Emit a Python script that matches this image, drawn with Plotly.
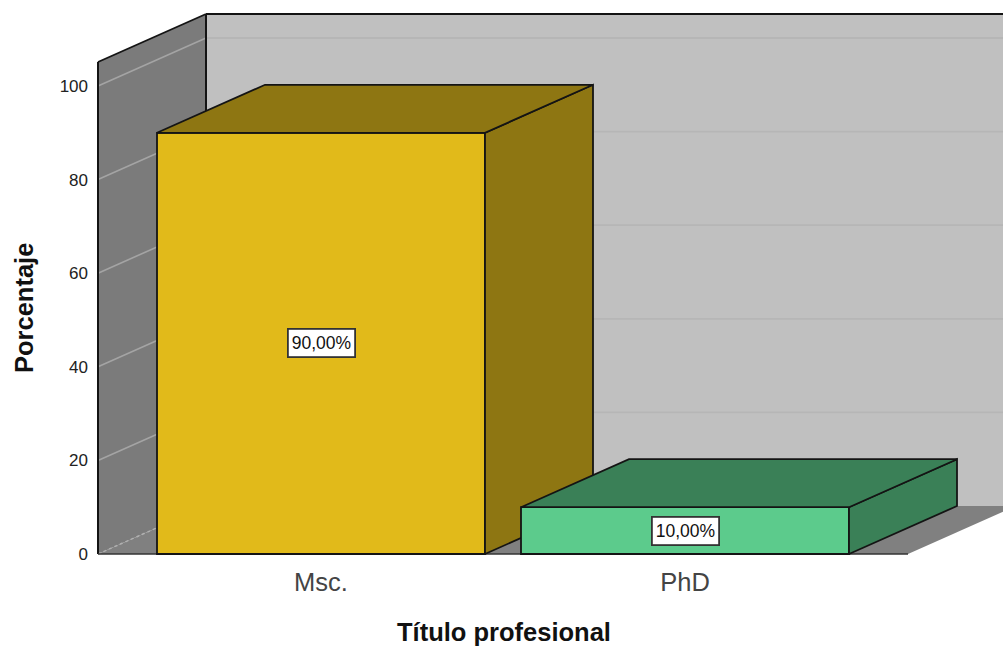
import plotly.graph_objects as go

# Data
categories = ["Msc.", "PhD"]
percentages = [90, 10]
data_labels = ["90,00%", "10,00%"]
y_ticks = [0, 20, 40, 60, 80, 100]
front_colors = ["#e1ba1a", "#5ccb8c"]
shade_colors = ["#8e7612", "#3a8057"]

# Geometry in axis units
PX_X = 364.0   # pixels per category step
PX_Y = 4.68    # pixels per percent
bar_w = 328 / PX_X
dx = 108 / PX_X
dy = 48 / PX_Y
x_left = (98 - 321) / PX_X
x_right = (908 - 321) / PX_X
y_wall = (554 - 62) / PX_Y
positions = list(range(len(categories)))

W, H = 1003, 646
ML, MT, MB = 94, 10, 88
PLOT_W, PLOT_H = W - ML, H - MT - MB
x_range = [(ML - 321) / PX_X, (W - 321) / PX_X]
y_range = [-(H - MB - 554) / PX_Y, (554 - MT) / PX_Y]
EDGE = "#141414"


def poly(xs, ys):
    return "M" + " L".join(f"{a},{b}" for a, b in zip(xs, ys)) + " Z"


shapes = []
def add_path(xs, ys, fill):
    shapes.append(dict(type="path", path=poly(xs, ys), fillcolor=fill, layer="below",
                       line=dict(width=0, color=fill), xref="x", yref="y"))


def add_line(x0, y0, x1, y1, color, width=1.5, dash="solid"):
    shapes.append(dict(type="line", x0=x0, y0=y0, x1=x1, y1=y1, layer="below", xref="x", yref="y",
                       line=dict(color=color, width=width, dash=dash)))


# Walls and floor
add_path([x_left + dx, x_range[1] + 1, x_range[1] + 1, x_left + dx], [dy, dy, y_wall + dy, y_wall + dy], "#c0c0c0")
add_path([x_left, x_left + dx, x_left + dx, x_left], [0, dy, y_wall + dy, y_wall], "#7b7b7b")
add_path([x_left, x_right, x_right + dx, x_left + dx], [0, 0, dy, dy], "#808080")

for t in y_ticks:
    if t == 0:
        add_line(x_left, 0, x_left + dx, dy, "#b0b0b0", 1.5, "dot")
    else:
        add_line(x_left, t, x_left + dx, t + dy, "#a4a4a4", 1.6)
        add_line(x_left + dx, t + dy, x_range[1], t + dy, "#b6b6b6", 1.8)

add_line(x_left, 0, x_left, y_wall, EDGE, 2)
add_line(x_left, y_wall, x_left + dx, y_wall + dy, EDGE, 1.8)
add_line(x_left + dx, dy, x_left + dx, y_wall + dy, EDGE, 2)
add_line(x_left + dx, y_wall + dy, x_range[1], y_wall + dy, EDGE, 1.8)
add_line(x_left, 0, x_right, 0, "#333333", 1.6)

fig = go.Figure()
for i, (pos, val) in enumerate(zip(positions, percentages)):
    xa = "x" if i == 0 else "x2"
    ya = "y" if i == 0 else "y2"
    x0, x1 = pos - bar_w / 2, pos + bar_w / 2
    fig.add_trace(go.Bar(x=[pos], y=[val], width=[bar_w], xaxis=xa, yaxis=ya, name=categories[i],
                         marker=dict(color=front_colors[i], line=dict(color=EDGE, width=1.8))))
    # right side
    fig.add_trace(go.Scatter(x=[x1, x1 + dx, x1 + dx, x1, x1], y=[0, dy, val + dy, val, 0], mode="lines",
                             fill="toself", fillcolor=shade_colors[i], xaxis=xa, yaxis=ya,
                             line=dict(color=EDGE, width=1.8), hoverinfo="skip"))
    # top
    fig.add_trace(go.Scatter(x=[x0, x1, x1 + dx, x0 + dx, x0], y=[val, val, val + dy, val + dy, val], mode="lines",
                             fill="toself", fillcolor=shade_colors[i], xaxis=xa, yaxis=ya,
                             line=dict(color=EDGE, width=1.8), hoverinfo="skip"))

annotations = [dict(x=p, y=v / 2, xref="x2", yref="y2", text=t, showarrow=False, bgcolor="white",
                    bordercolor="#333333", borderwidth=1.8, borderpad=3,
                    font=dict(family="Liberation Sans", size=17.5, color="#111111"))
               for p, v, t in zip(positions, percentages, data_labels)]
annotations.append(dict(text="<b>Título profesional</b>", showarrow=False, xref="paper", yref="paper",
                        x=(503.5 - ML) / PLOT_W, y=(H - MB - 632) / PLOT_H, xanchor="center", yanchor="middle",
                        font=dict(family="Liberation Sans", size=25.5, color="#111111")))
annotations.append(dict(text="<b>Porcentaje</b>", showarrow=False, xref="paper", yref="paper", textangle=-90,
                        x=(24 - ML) / PLOT_W, y=(H - MB - 308) / PLOT_H, xanchor="center", yanchor="middle",
                        font=dict(family="Liberation Sans", size=25.5, color="#111111")))

fig.update_layout(
    width=W, height=H, showlegend=False, barmode="overlay",
    margin=dict(l=ML, r=0, t=MT, b=MB, autoexpand=False),
    paper_bgcolor="white", plot_bgcolor="white",
    font=dict(family="Liberation Sans"),
    shapes=shapes, annotations=annotations,
    xaxis=dict(range=x_range, tickmode="array", tickvals=positions, ticktext=categories, showgrid=False,
               zeroline=False, showline=False, ticks="", ticklabelstandoff=6,
               tickfont=dict(size=25.5, color="#444444")),
    yaxis=dict(range=y_range, tickmode="array", tickvals=y_ticks, showgrid=False, zeroline=False,
               showline=False, ticks="", ticklabelstandoff=5,
               tickfont=dict(size=17, color="#222222")),
    xaxis2=dict(range=x_range, overlaying="x", visible=False),
    yaxis2=dict(range=y_range, overlaying="y", visible=False),
)

fig.write_html("out.html", config=dict(displayModeBar=False),
               post_script="document.body.style.margin='0';document.body.style.overflow='hidden';")
